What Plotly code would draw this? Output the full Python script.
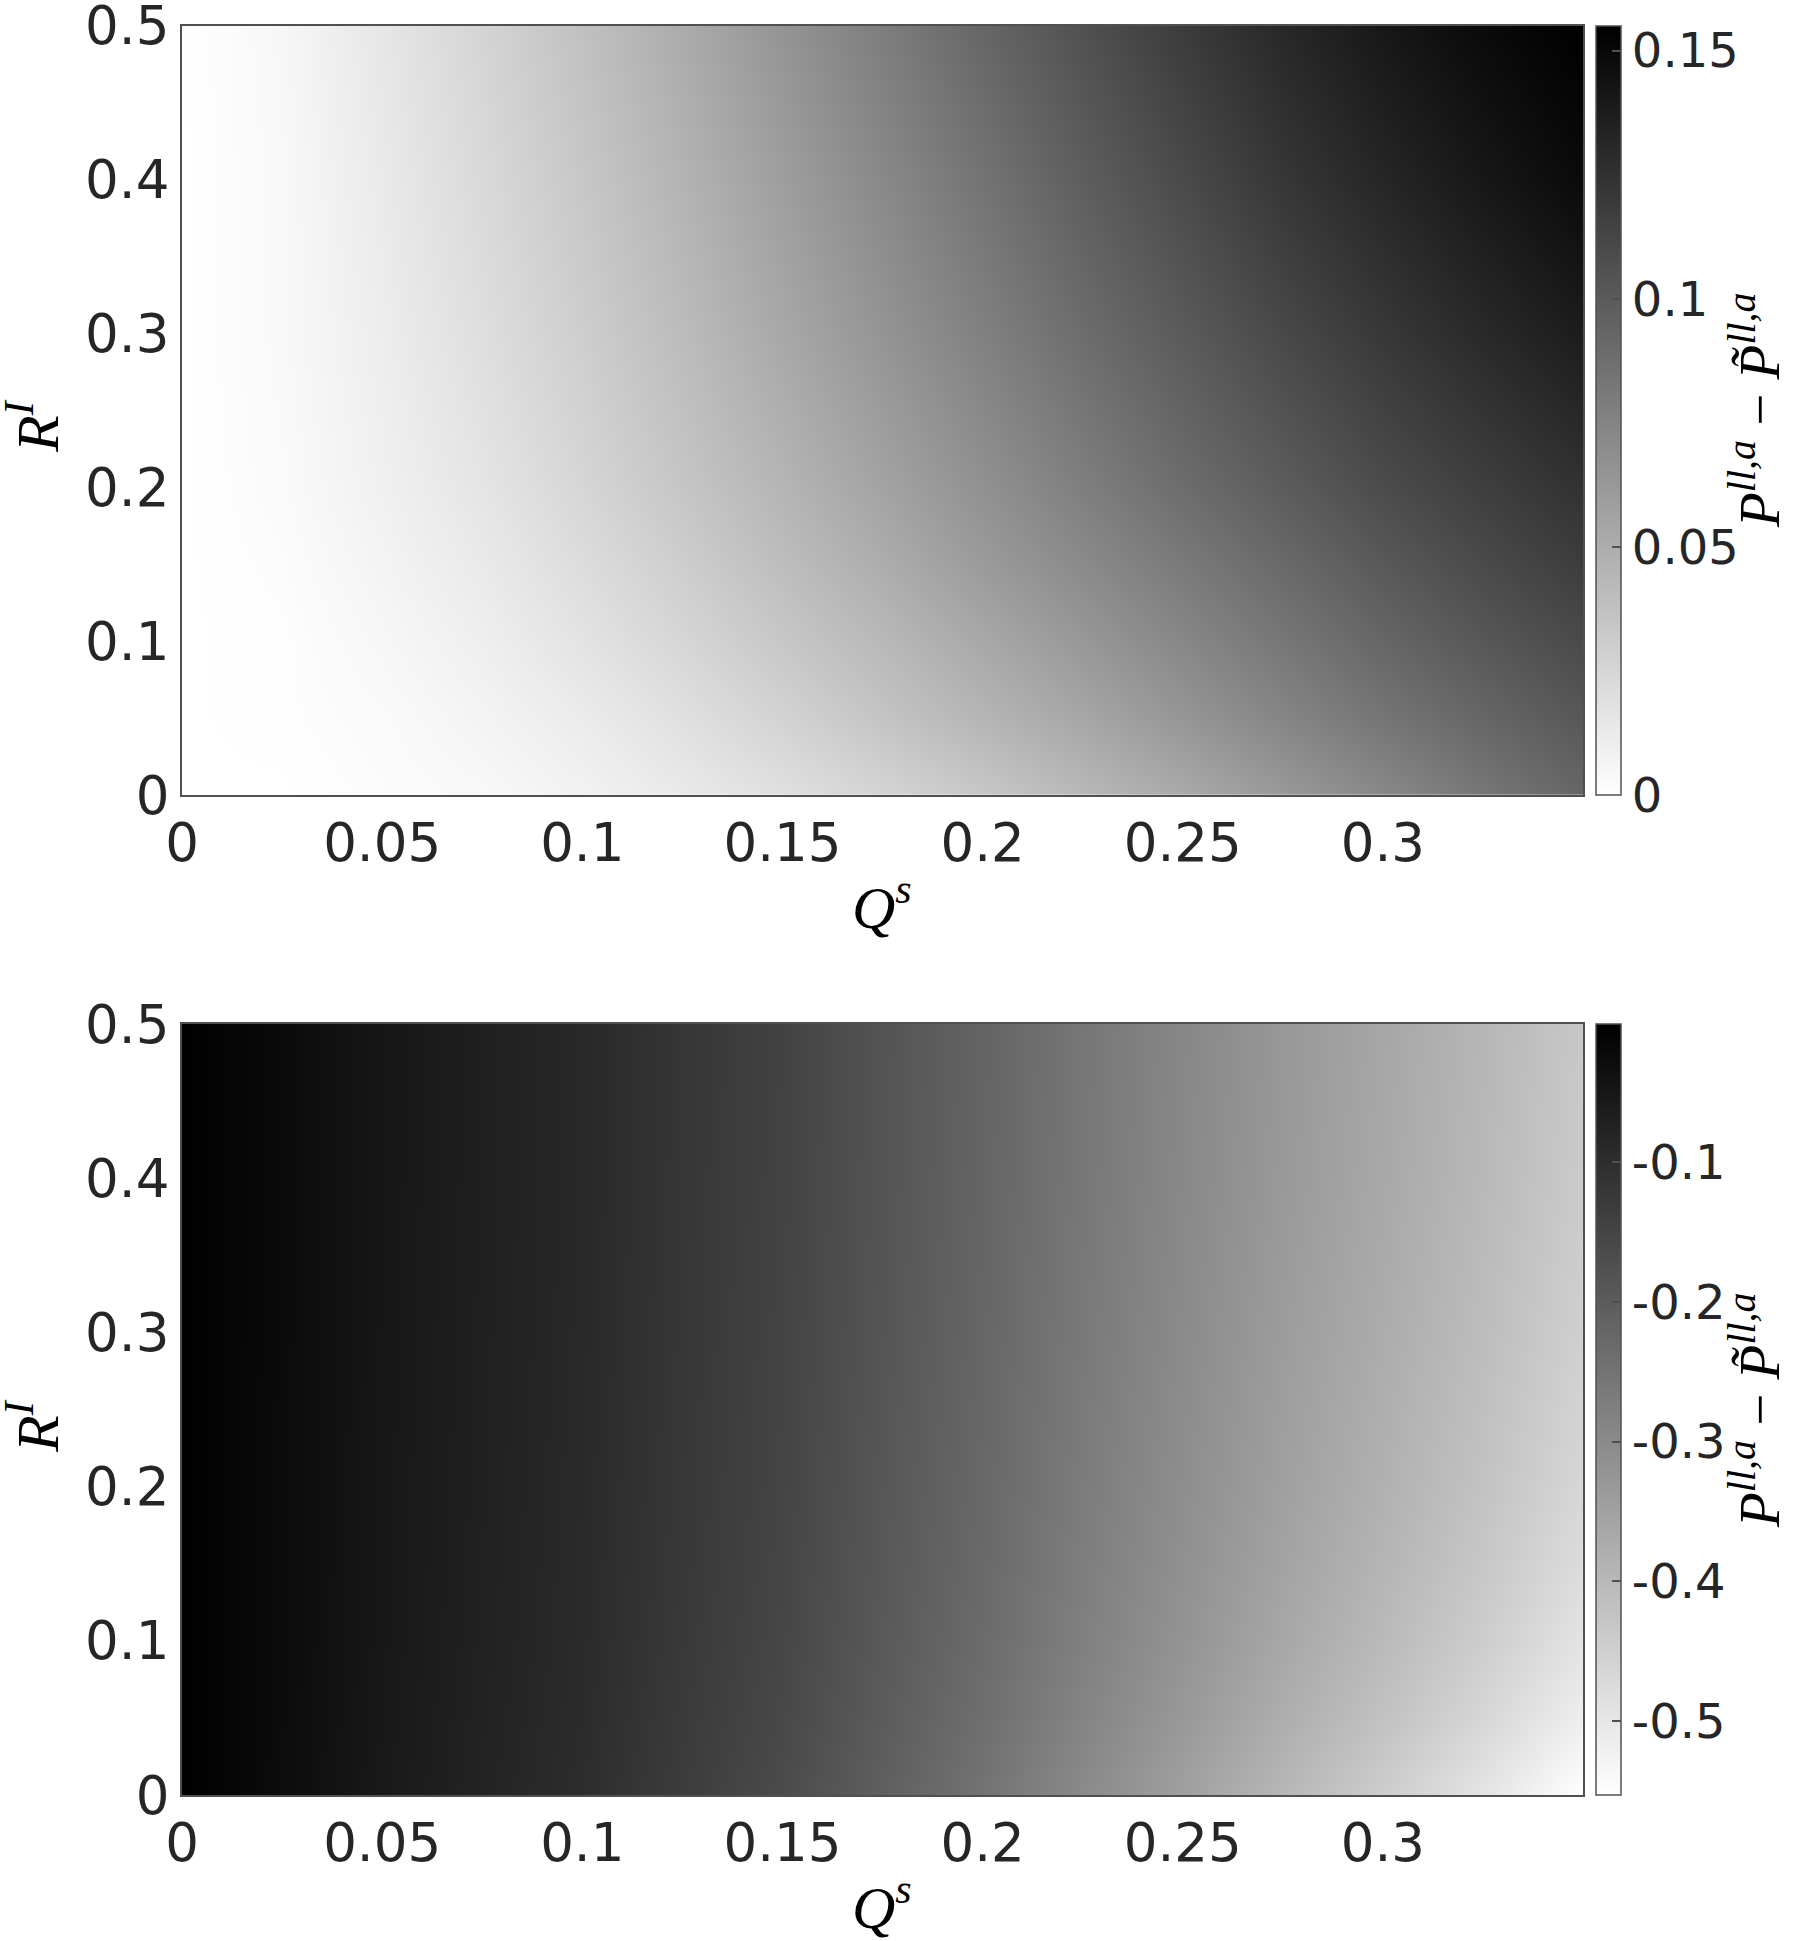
import plotly.graph_objects as go

# ---------------- data ----------------
Q_vals = [0, 0.025, 0.05, 0.075, 0.1, 0.125, 0.15, 0.175, 0.2, 0.225, 0.25, 0.275, 0.3, 0.325, 0.35]
R_vals = [0, 0.05, 0.1, 0.15, 0.2, 0.3, 0.4, 0.5]

# top panel: P^{ll,a} - P~^{ll,a}  (rows follow R_vals)
top_z = [
    [0, 0.000, 0.002, 0.004, 0.008, 0.013, 0.019, 0.026, 0.034, 0.043, 0.052, 0.062, 0.072, 0.083, 0.093],
    [0, 0.001, 0.003, 0.007, 0.012, 0.019, 0.027, 0.036, 0.045, 0.054, 0.064, 0.074, 0.084, 0.093, 0.102],
    [0, 0.001, 0.005, 0.010, 0.017, 0.025, 0.034, 0.043, 0.053, 0.063, 0.073, 0.083, 0.093, 0.102, 0.110],
    [0, 0.002, 0.007, 0.013, 0.021, 0.030, 0.040, 0.050, 0.061, 0.071, 0.081, 0.091, 0.101, 0.110, 0.118],
    [0, 0.003, 0.009, 0.016, 0.025, 0.035, 0.045, 0.056, 0.067, 0.078, 0.089, 0.099, 0.109, 0.117, 0.125],
    [0, 0.004, 0.011, 0.020, 0.030, 0.041, 0.053, 0.065, 0.077, 0.089, 0.100, 0.111, 0.121, 0.130, 0.138],
    [0, 0.004, 0.013, 0.023, 0.034, 0.046, 0.059, 0.072, 0.085, 0.098, 0.110, 0.122, 0.132, 0.141, 0.149],
    [0, 0.005, 0.015, 0.026, 0.038, 0.051, 0.065, 0.079, 0.093, 0.106, 0.119, 0.131, 0.141, 0.149, 0.155],
]

# bottom panel
bot_z = [
    [-0.001, -0.027, -0.055, -0.077, -0.098, -0.131, -0.163, -0.207, -0.250, -0.300, -0.347, -0.397, -0.445, -0.495, -0.553],
    [-0.001, -0.026, -0.053, -0.075, -0.095, -0.127, -0.157, -0.199, -0.240, -0.287, -0.331, -0.377, -0.420, -0.465, -0.517],
    [-0.001, -0.025, -0.052, -0.073, -0.093, -0.124, -0.153, -0.194, -0.233, -0.278, -0.320, -0.363, -0.403, -0.445, -0.493],
    [-0.001, -0.025, -0.051, -0.072, -0.092, -0.122, -0.151, -0.191, -0.229, -0.273, -0.313, -0.354, -0.392, -0.432, -0.478],
    [-0.001, -0.025, -0.051, -0.071, -0.091, -0.121, -0.149, -0.189, -0.226, -0.269, -0.308, -0.347, -0.384, -0.422, -0.466],
    [-0.001, -0.024, -0.050, -0.070, -0.089, -0.119, -0.147, -0.185, -0.222, -0.263, -0.301, -0.339, -0.373, -0.409, -0.451],
    [-0.001, -0.024, -0.049, -0.069, -0.088, -0.118, -0.145, -0.183, -0.219, -0.259, -0.296, -0.332, -0.365, -0.400, -0.440],
    [-0.001, -0.024, -0.049, -0.069, -0.088, -0.117, -0.144, -0.182, -0.217, -0.257, -0.293, -0.329, -0.361, -0.395, -0.434],
]

top_range = [0.0, 0.155]
bot_range = [-0.553, -0.001]

x_ticks = [0, 0.05, 0.1, 0.15, 0.2, 0.25, 0.3]
x_ticklabels = ["0", "0.05", "0.1", "0.15", "0.2", "0.25", "0.3"]
y_ticks = [0, 0.1, 0.2, 0.3, 0.4, 0.5]
y_ticklabels = ["0", "0.1", "0.2", "0.3", "0.4", "0.5"]
top_cb_ticks = [0, 0.05, 0.1, 0.15]
top_cb_labels = ["0", "0.05", "0.1", "0.15"]
bot_cb_ticks = [-0.5, -0.4, -0.3, -0.2, -0.1]
bot_cb_labels = ["-0.5", "-0.4", "-0.3", "-0.2", "-0.1"]

x_title = "<i>Q</i><sup><i>s</i></sup>"
y_title = "<i>R</i><sup><i>I</i></sup>"
cb_title = "<i>P</i><sup><i>ll,a</i></sup> \u2212 <i>P\u0303</i><sup><i>ll,a</i></sup>"

# ---------------- layout geometry ----------------
W, H = 1800, 1941
def fx(px):
    return px / W
def fy(py):
    return 1 - py / H

x_dom = [fx(182), fx(1583)]
top_dom = [fy(795), fy(25.7)]
bot_dom = [fy(1795), fy(1024)]

gray_scale = [[0, "rgb(255,255,255)"], [1, "rgb(0,0,0)"]]
axis_col = "#262626"
line_col = "#505050"
tick_font = dict(family="DejaVu Sans", size=53, color=axis_col)
cb_font = dict(family="DejaVu Sans", size=48, color=axis_col)
serif = "Liberation Serif"


def cbar(dom, ticks, labels):
    return dict(
        x=fx(1596), xanchor="left", xpad=0,
        y=(dom[0] + dom[1]) / 2, yanchor="middle", ypad=0,
        len=dom[1] - dom[0], lenmode="fraction",
        thickness=25, thicknessmode="pixels",
        outlinewidth=1.5, outlinecolor=line_col,
        ticks="inside", ticklen=9, tickwidth=1.5, tickcolor=line_col,
        tickvals=ticks, ticktext=labels, tickfont=cb_font,
        ticklabeloverflow="allow",
    )


fig = go.Figure()
fig.add_trace(go.Heatmap(
    x=Q_vals, y=R_vals, z=top_z, zsmooth="best",
    colorscale=gray_scale, zmin=top_range[0], zmax=top_range[1],
    colorbar=cbar(top_dom, top_cb_ticks, top_cb_labels),
    xaxis="x", yaxis="y",
))
fig.add_trace(go.Heatmap(
    x=Q_vals, y=R_vals, z=bot_z, zsmooth="best",
    colorscale=gray_scale, zmin=bot_range[0], zmax=bot_range[1],
    colorbar=cbar(bot_dom, bot_cb_ticks, bot_cb_labels),
    xaxis="x2", yaxis="y2",
))


def xax(anchor):
    return dict(
        domain=x_dom, anchor=anchor, range=[0, 0.35],
        tickvals=x_ticks, ticktext=x_ticklabels, tickfont=tick_font,
        ticks="", showline=True, linecolor=line_col, linewidth=2, mirror=True,
        showgrid=False, zeroline=False, ticklabelstandoff=0,
        ticklabeloverflow="allow",
    )


def yax(anchor, dom):
    return dict(
        domain=dom, anchor=anchor, range=[0, 0.5],
        tickvals=y_ticks, ticktext=y_ticklabels, tickfont=tick_font,
        ticks="", showline=True, linecolor=line_col, linewidth=2, mirror=True,
        showgrid=False, zeroline=False, ticklabelstandoff=0,
        ticklabeloverflow="allow",
    )


ann_font = dict(family=serif, size=60, color="#000000")
cbt_font = dict(family=serif, size=57, color="#000000")
annotations = []
for yc_px, xt_px in [(426, 903), (1426, 1903)]:
    annotations.append(dict(text=x_title, x=fx(882), y=fy(xt_px), xref="paper", yref="paper",
                            showarrow=False, font=ann_font, xanchor="center", yanchor="middle",
                            borderpad=0))
    annotations.append(dict(text=y_title, x=fx(33), y=fy(yc_px), xref="paper", yref="paper",
                            showarrow=False, font=ann_font, textangle=-90,
                            xanchor="center", yanchor="middle", borderpad=0))
    annotations.append(dict(text=cb_title, x=fx(1755), y=fy(yc_px - 16), xref="paper", yref="paper",
                            showarrow=False, font=cbt_font, textangle=-90,
                            xanchor="center", yanchor="middle", borderpad=0))

fig.update_layout(
    width=W, height=H,
    margin=dict(l=0, r=0, t=0, b=0, pad=0, autoexpand=False),
    paper_bgcolor="white", plot_bgcolor="white",
    xaxis=xax("y"), yaxis=yax("x", top_dom),
    xaxis2=xax("y2"), yaxis2=yax("x2", bot_dom),
    annotations=annotations,
    showlegend=False,
)

fig.write_html(
    "out.html",
    config={"displayModeBar": False},
    post_script="document.body.style.margin='0px';document.body.style.overflow='hidden';",
)
